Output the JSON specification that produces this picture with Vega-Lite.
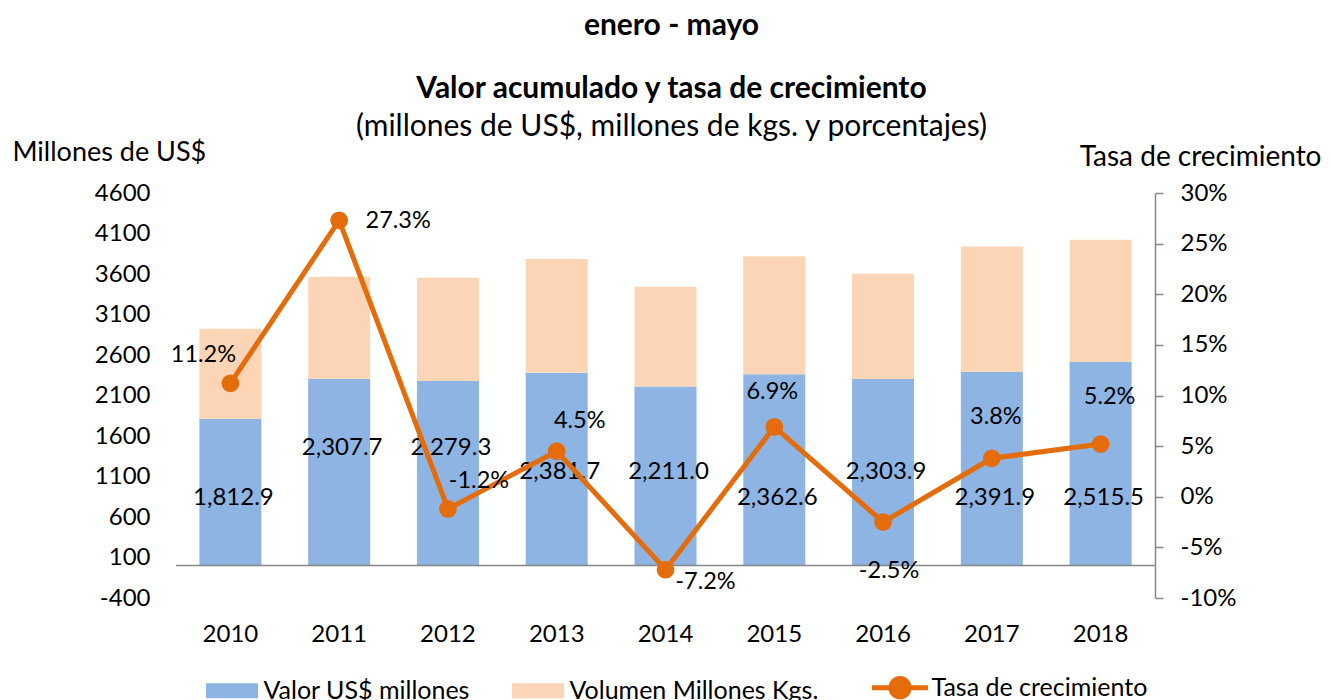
{
  "$schema": "https://vega.github.io/schema/vega-lite/v6.json",
  "width": 979,
  "height": 405,
  "autosize": {"type": "none"},
  "padding": {"left": 176, "top": 193, "right": 177, "bottom": 102},
  "background": "white",
  "config": {
    "locale": {"number": {"decimal": ".", "thousands": ",", "grouping": [3], "currency": ["$", ""], "minus": "-"}},
    "font": "Lato",
    "view": {"stroke": null},
    "axis": {"labelFont": "Lato", "labelFontSize": 24, "labelColor": "#000", "titleFont": "Lato", "titleFontSize": 28, "titleColor": "#000", "titleFontWeight": "normal", "grid": false},
    "text": {"font": "Lato", "fontSize": 24, "color": "#000"}
  },
  "title": {
    "text": ["enero - mayo", "Valor acumulado y tasa de crecimiento"],
    "subtitle": "(millones de US$, millones de kgs. y porcentajes)",
    "anchor": "middle",
    "frame": "group",
    "dx": 6,
    "font": "Lato",
    "fontSize": 30,
    "fontWeight": "bold",
    "color": "#000",
    "lineHeight": 63,
    "subtitleFont": "Lato",
    "subtitleFontSize": 30,
    "subtitleFontWeight": "normal",
    "subtitleColor": "#000",
    "subtitlePadding": 8,
    "offset": -4
  },
  "datasets": {
    "bars": [
      {"year": "2010", "serie": "Valor US$ millones", "value": 1812.9},
      {"year": "2011", "serie": "Valor US$ millones", "value": 2307.7},
      {"year": "2012", "serie": "Valor US$ millones", "value": 2279.3},
      {"year": "2013", "serie": "Valor US$ millones", "value": 2381.7},
      {"year": "2014", "serie": "Valor US$ millones", "value": 2211.0},
      {"year": "2015", "serie": "Valor US$ millones", "value": 2362.6},
      {"year": "2016", "serie": "Valor US$ millones", "value": 2303.9},
      {"year": "2017", "serie": "Valor US$ millones", "value": 2391.9},
      {"year": "2018", "serie": "Valor US$ millones", "value": 2515.5},
      {"year": "2010", "serie": "Volumen Millones Kgs.", "value": 1110},
      {"year": "2011", "serie": "Volumen Millones Kgs.", "value": 1257},
      {"year": "2012", "serie": "Volumen Millones Kgs.", "value": 1274},
      {"year": "2013", "serie": "Volumen Millones Kgs.", "value": 1402},
      {"year": "2014", "serie": "Volumen Millones Kgs.", "value": 1231},
      {"year": "2015", "serie": "Volumen Millones Kgs.", "value": 1458},
      {"year": "2016", "serie": "Volumen Millones Kgs.", "value": 1298},
      {"year": "2017", "serie": "Volumen Millones Kgs.", "value": 1547},
      {"year": "2018", "serie": "Volumen Millones Kgs.", "value": 1506}
    ],
    "tasa": [
      {"year": "2010", "tasa": 0.112},
      {"year": "2011", "tasa": 0.273},
      {"year": "2012", "tasa": -0.012},
      {"year": "2013", "tasa": 0.045},
      {"year": "2014", "tasa": -0.072},
      {"year": "2015", "tasa": 0.069},
      {"year": "2016", "tasa": -0.025},
      {"year": "2017", "tasa": 0.038},
      {"year": "2018", "tasa": 0.052}
    ]
  },
  "layer": [
    {
      "layer": [
        {
          "data": {"name": "bars"},
          "mark": {"type": "bar"},
          "encoding": {
            "x": {
              "field": "year",
              "type": "ordinal",
              "scale": {"paddingInner": 0.43, "paddingOuter": 0.215},
              "axis": {"title": null, "domain": false, "ticks": false, "labelPadding": 24, "labelAngle": 0}
            },
            "y": {
              "field": "value",
              "type": "quantitative",
              "stack": "zero",
              "scale": {"domain": [-400, 4600], "nice": false, "zero": false},
              "axis": {
                "values": [-400, 100, 600, 1100, 1600, 2100, 2600, 3100, 3600, 4100, 4600],
                "format": "d",
                "title": "Millones de US$",
                "titleFontSize": 27,
                "titleAngle": 0,
                "titleAlign": "left",
                "titleBaseline": "middle",
                "titleX": -164,
                "titleY": -41,
                "domain": false,
                "ticks": false,
                "tickSize": 0,
                "labelPadding": 26
              }
            },
            "color": {
              "field": "serie",
              "type": "nominal",
              "scale": {
                "domain": ["Valor US$ millones", "Volumen Millones Kgs.", "Tasa de crecimiento"],
                "range": ["#8EB4E3", "#FBD5B5", "#E46C0A"]
              },
              "legend": {
                "orient": "none",
                "legendX": 30,
                "legendY": 482,
                "direction": "horizontal",
                "title": null,
                "padding": 0,
                "labelFont": "Lato",
                "labelFontSize": 25,
                "labelColor": "#000",
                "labelLimit": 400,
                "symbolSize": 2704,
                "symbolStrokeWidth": 0,
                "symbolOffset": 13.5,
                "labelOffset": 19,
                "columnPadding": 42,
                "encode": {
                  "symbols": {
                    "update": {
                      "size": {"value": 2704},
                      "shape": {"signal": "datum.value === 'Tasa de crecimiento' ? 'M-1.08,0H1.08M-0.35,0A0.35,0.35,0,1,0,0.35,0A0.35,0.35,0,1,0,-0.35,0Z' : 'M-1,-0.29H1V0.29H-1Z'"},
                      "fill": {"signal": "datum.value === 'Valor US$ millones' ? '#8EB4E3' : datum.value === 'Volumen Millones Kgs.' ? '#FBD5B5' : '#E46C0A'"},
                      "stroke": {"signal": "datum.value === 'Tasa de crecimiento' ? '#E46C0A' : 'transparent'"},
                      "strokeWidth": {"signal": "datum.value === 'Tasa de crecimiento' ? 5 : 0"},
                      "opacity": {"value": 1}
                    }
                  }
                }
              }
            },
            "order": {"field": "serie", "sort": "ascending"}
          }
        },
        {
          "data": {"values": [{}]},
          "mark": {"type": "rule", "color": "#868686", "strokeWidth": 1.5},
          "encoding": {"y": {"datum": 0}}
        },
        {
          "data": {"name": "bars"},
          "transform": [{"filter": "datum.serie === 'Valor US$ millones' && (datum.year === '2011' || datum.year === '2012')"}],
          "mark": {"type": "text", "dx": 3, "baseline": "middle"},
          "encoding": {"x": {"field": "year", "type": "ordinal"}, "y": {"datum": 1453}, "text": {"field": "value", "format": ",.1f"}}
        },
        {
          "data": {"name": "bars"},
          "transform": [{"filter": "datum.serie === 'Valor US$ millones' && (datum.year === '2013' || datum.year === '2014' || datum.year === '2016')"}],
          "mark": {"type": "text", "dx": 3, "baseline": "middle"},
          "encoding": {"x": {"field": "year", "type": "ordinal"}, "y": {"datum": 1157}, "text": {"field": "value", "format": ",.1f"}}
        },
        {
          "data": {"name": "bars"},
          "transform": [{"filter": "datum.serie === 'Valor US$ millones' && (datum.year === '2010' || datum.year === '2015' || datum.year === '2017' || datum.year === '2018')"}],
          "mark": {"type": "text", "dx": 3, "baseline": "middle"},
          "encoding": {"x": {"field": "year", "type": "ordinal"}, "y": {"datum": 836}, "text": {"field": "value", "format": ",.1f"}}
        }
      ]
    },
    {
      "data": {"name": "tasa"},
      "encoding": {
        "x": {"field": "year", "type": "ordinal"},
        "y": {
          "field": "tasa",
          "type": "quantitative",
          "scale": {"domain": [-0.1, 0.3], "nice": false, "zero": false},
          "axis": {
            "orient": "right",
            "values": [-0.1, -0.05, 0, 0.05, 0.1, 0.15, 0.2, 0.25, 0.3],
            "format": ".0%",
            "title": "Tasa de crecimiento",
            "titleAngle": 0,
            "titleAlign": "right",
            "titleBaseline": "middle",
            "titleX": 166,
            "titleY": -36,
            "domain": true,
            "domainColor": "#868686",
            "domainWidth": 1.5,
            "ticks": true,
            "tickColor": "#868686",
            "tickWidth": 1.5,
            "tickSize": 8,
            "labelPadding": 17
          }
        }
      },
      "layer": [
        {
          "mark": {"type": "line", "strokeWidth": 5, "strokeJoin": "round", "color": "#E46C0A"},
          "encoding": {"color": {"datum": "Tasa de crecimiento", "legend": null}}
        },
        {
          "mark": {"type": "point", "filled": true, "size": 314, "opacity": 1},
          "encoding": {"color": {"datum": "Tasa de crecimiento", "legend": null}}
        },
        {"transform": [{"filter": "datum.year === '2010'"}], "mark": {"type": "text", "fontSize": 23.5, "dx": -27, "dy": -28}, "encoding": {"text": {"field": "tasa", "format": ".1%"}}},
        {"transform": [{"filter": "datum.year === '2011'"}], "mark": {"type": "text", "fontSize": 23.5, "dx": 59, "dy": 1}, "encoding": {"text": {"field": "tasa", "format": ".1%"}}},
        {"transform": [{"filter": "datum.year === '2012'"}], "mark": {"type": "text", "fontSize": 23.5, "dx": 31, "dy": -28}, "encoding": {"text": {"field": "tasa", "format": ".1%"}}},
        {"transform": [{"filter": "datum.year === '2013'"}], "mark": {"type": "text", "fontSize": 23.5, "dx": 23, "dy": -30}, "encoding": {"text": {"field": "tasa", "format": ".1%"}}},
        {"transform": [{"filter": "datum.year === '2014'"}], "mark": {"type": "text", "fontSize": 23.5, "dx": 40, "dy": 12}, "encoding": {"text": {"field": "tasa", "format": ".1%"}}},
        {"transform": [{"filter": "datum.year === '2015'"}], "mark": {"type": "text", "fontSize": 23.5, "dx": -2, "dy": -35}, "encoding": {"text": {"field": "tasa", "format": ".1%"}}},
        {"transform": [{"filter": "datum.year === '2016'"}], "mark": {"type": "text", "fontSize": 23.5, "dx": 6, "dy": 49}, "encoding": {"text": {"field": "tasa", "format": ".1%"}}},
        {"transform": [{"filter": "datum.year === '2017'"}], "mark": {"type": "text", "fontSize": 23.5, "dx": 4, "dy": -41}, "encoding": {"text": {"field": "tasa", "format": ".1%"}}},
        {"transform": [{"filter": "datum.year === '2018'"}], "mark": {"type": "text", "fontSize": 23.5, "dx": 9, "dy": -47}, "encoding": {"text": {"field": "tasa", "format": ".1%"}}}
      ]
    }
  ],
  "resolve": {"scale": {"y": "independent"}}
}
